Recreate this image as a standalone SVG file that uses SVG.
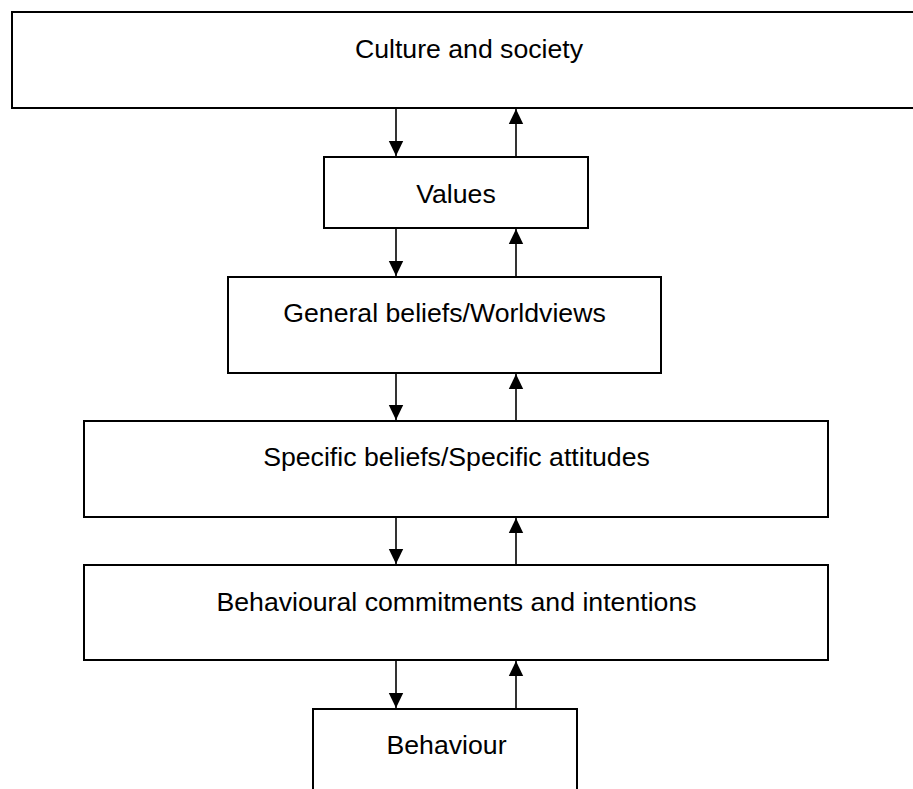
<svg xmlns="http://www.w3.org/2000/svg" width="913" height="789" viewBox="0 0 913 789">
<style>
.box{fill:#fff;stroke:#000;stroke-width:2}
.lbl{font-family:"Liberation Sans",Arial,sans-serif;font-size:26.67px;fill:#000;text-anchor:middle}
.conn{stroke:#000;stroke-width:1.6;fill:none;marker-end:url(#ah)}
</style>
<defs>
<marker id="ah" markerUnits="userSpaceOnUse" markerWidth="16" markerHeight="16" viewBox="0 0 16 16" refX="15" refY="8" orient="auto">
<path d="M0,0.8 L15,8 L0,15.2 Z" fill="#000"/>
</marker>
</defs>
<rect width="913" height="789" fill="#fff"/>
<g id="culture"><rect class="box" x="12" y="12" width="920" height="96"/><text class="lbl" x="469" y="58">Culture and society</text></g>
<g id="values"><rect class="box" x="324" y="157" width="264" height="71"/><text class="lbl" x="456" y="203">Values</text></g>
<g id="general"><rect class="box" x="228" y="277" width="433" height="96"/><text class="lbl" x="444.5" y="322">General beliefs/Worldviews</text></g>
<g id="specific"><rect class="box" x="84" y="421" width="744" height="96"/><text class="lbl" x="456.5" y="466">Specific beliefs/Specific attitudes</text></g>
<g id="behavioural"><rect class="box" x="84" y="565" width="744" height="95"/><text class="lbl" x="456.5" y="611">Behavioural commitments and intentions</text></g>
<g id="behaviour"><rect class="box" x="313" y="709" width="264" height="100"/><text class="lbl" x="446.5" y="754">Behaviour</text></g>
<g id="connectors">
<line class="conn" x1="396" y1="109" x2="396" y2="156"/>
<line class="conn" x1="516" y1="156" x2="516" y2="109"/>
<line class="conn" x1="396" y1="229" x2="396" y2="276"/>
<line class="conn" x1="516" y1="276" x2="516" y2="229"/>
<line class="conn" x1="396" y1="374" x2="396" y2="420"/>
<line class="conn" x1="516" y1="420" x2="516" y2="374"/>
<line class="conn" x1="396" y1="518" x2="396" y2="564"/>
<line class="conn" x1="516" y1="564" x2="516" y2="518"/>
<line class="conn" x1="396" y1="661" x2="396" y2="708"/>
<line class="conn" x1="516" y1="708" x2="516" y2="661"/>
</g>
</svg>
